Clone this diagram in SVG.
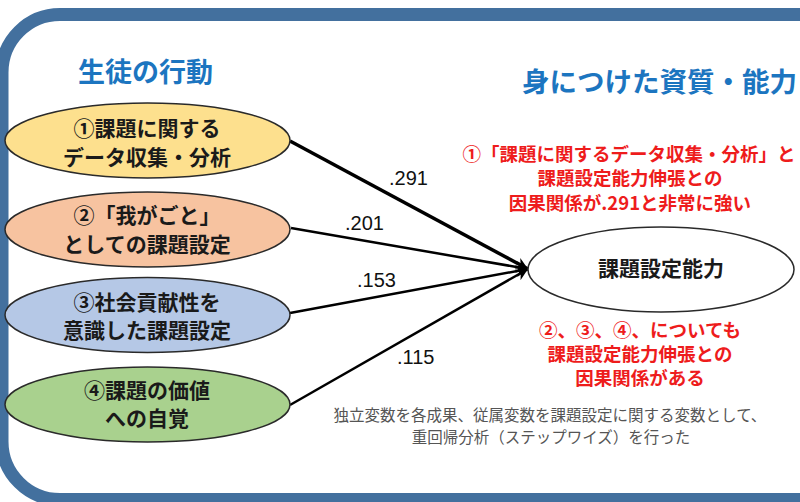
<svg xmlns="http://www.w3.org/2000/svg" width="800" height="502" viewBox="0 0 800 502">
<defs>
<marker id="arrB" viewBox="0 0 10 10" refX="10" refY="5" markerWidth="14" markerHeight="12" markerUnits="userSpaceOnUse" orient="auto">
<path d="M0,0 L10,5 L0,10 L3,5 z" fill="#000"/>
</marker>
<style>
.node{stroke:#2a2a2a;stroke-width:1.5}
.nt{font-family:"Noto Sans CJK JP","Noto Sans",sans-serif;font-weight:bold;font-size:21px;fill:#1a1a1a;text-anchor:middle}
.title{font-family:"Noto Sans CJK JP","Noto Sans",sans-serif;font-weight:bold;fill:#1c75c0}
.red{font-family:"Noto Sans CJK JP","Noto Sans",sans-serif;font-weight:bold;font-size:18.5px;fill:#ee1c1c;text-anchor:middle}
.gray{font-family:"Noto Sans CJK JP","Noto Sans",sans-serif;font-size:15.5px;fill:#555;text-anchor:middle}
.num{font-family:"Liberation Sans","Open Sans",sans-serif;font-size:20px;fill:#111}
.edge{stroke:#000;fill:none}
</style>
</defs>
<rect width="800" height="502" fill="#fff"/>
<rect x="2" y="14.5" width="900" height="485" rx="58" ry="58" fill="none" stroke="#43709e" stroke-width="13"/>

<text class="title" x="78" y="82" font-size="27">生徒の行動</text>
<text class="title" x="522" y="92" font-size="27.5">身につけた資質・能力</text>

<g id="connectors">
<line class="edge" x1="290" y1="141" x2="528" y2="269" stroke-width="3.5" marker-end="url(#arrB)"/>
<line class="edge" x1="291" y1="228" x2="528" y2="269" stroke-width="2.5" marker-end="url(#arrB)"/>
<line class="edge" x1="290" y1="313" x2="528" y2="269" stroke-width="2.5" marker-end="url(#arrB)"/>
<line class="edge" x1="290" y1="405" x2="528" y2="269" stroke-width="2.5" marker-end="url(#arrB)"/>
<text class="num" x="389" y="185">.291</text>
<text class="num" x="345" y="230">.201</text>
<text class="num" x="357" y="287">.153</text>
<text class="num" x="397" y="364">.115</text>
</g>

<g id="n1">
<ellipse class="node" cx="147.5" cy="140.5" rx="142.5" ry="37.5" fill="#fde08e"/>
<text class="nt" x="147" y="136">①課題に関する</text>
<text class="nt" x="147" y="165">データ収集・分析</text>
</g>
<g id="n2">
<ellipse class="node" cx="147.5" cy="229.5" rx="142.5" ry="37.5" fill="#f7c3a0"/>
<text class="nt" x="147" y="223">②「我がごと」</text>
<text class="nt" x="147" y="252">としての課題設定</text>
</g>
<g id="n3">
<ellipse class="node" cx="147.5" cy="315" rx="142.5" ry="37.5" fill="#b5c8e6"/>
<text class="nt" x="147" y="310">③社会貢献性を</text>
<text class="nt" x="147" y="338">意識した課題設定</text>
</g>
<g id="n4">
<ellipse class="node" cx="147.5" cy="404.5" rx="142.5" ry="37.5" fill="#a9d18e"/>
<text class="nt" x="147" y="398">④課題の価値</text>
<text class="nt" x="147" y="426">への自覚</text>
</g>
<g id="target">
<ellipse class="node" cx="661" cy="269.5" rx="133" ry="42.5" fill="#fff"/>
<text class="nt" x="661" y="276" font-size="22">課題設定能力</text>
</g>

<g id="notes">
<text class="red" x="629" y="161">①「課題に関するデータ収集・分析」と</text>
<text class="red" x="630" y="185">課題設定能力伸張との</text>
<text class="red" x="630" y="210">因果関係が.291と非常に強い</text>
<text class="red" x="640" y="337">②、③、④、についても</text>
<text class="red" x="640" y="361">課題設定能力伸張との</text>
<text class="red" x="640" y="385">因果関係がある</text>
<text class="gray" x="550" y="421">独立変数を各成果、従属変数を課題設定に関する変数として、</text>
<text class="gray" x="551" y="443">重回帰分析（ステップワイズ）を行った</text>
</g>
</svg>
